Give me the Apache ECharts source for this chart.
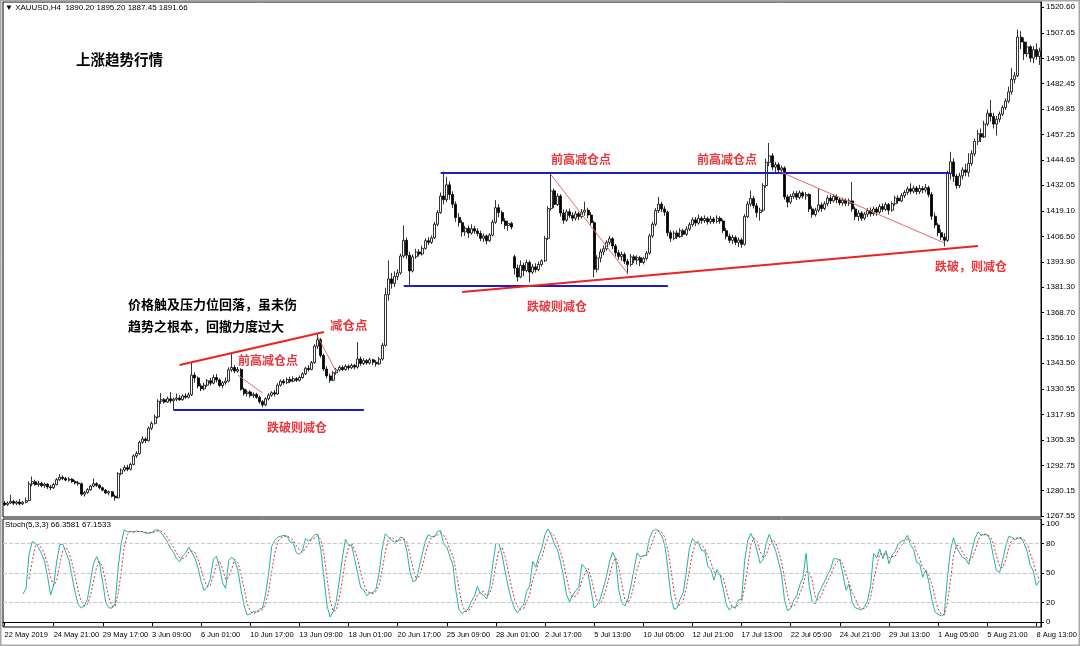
<!DOCTYPE html>
<html><head><meta charset="utf-8">
<script src="https://cdn.jsdelivr.net/npm/echarts@6/dist/echarts.min.js"></script>
<style>html,body{margin:0;padding:0;background:#fff;}#c{width:1080px;height:646px;}</style>
</head><body><div id="c"></div>
<script>
// ---- DATA ----
const xTickLabels = ['22 May 2019','24 May 21:00','29 May 17:00','3 Jun 09:00','6 Jun 01:00','10 Jun 17:00','13 Jun 09:00','18 Jun 01:00','20 Jun 17:00','25 Jun 09:00','28 Jun 01:00','2 Jul 17:00','5 Jul 13:00','10 Jul 05:00','12 Jul 21:00','17 Jul 13:00','22 Jul 05:00','24 Jul 21:00','29 Jul 13:00','1 Aug 05:00','5 Aug 21:00','8 Aug 13:00'];
const priceTicks = [1520.60,1507.65,1495.05,1482.45,1469.85,1457.25,1444.65,1432.05,1419.10,1406.50,1393.90,1381.30,1368.70,1356.10,1343.50,1330.55,1317.95,1305.35,1292.75,1280.15,1267.55];
const stochTicks = [100,80,50,20,0];
const stochLevels = [20,50,80];
// H4 bars: [open, close, low, high]
const ohlc = [
[1274.0,1273.2,1272.5,1275.0],[1273.2,1274.0,1272.6,1274.8],[1274.0,1274.8,1273.5,1278.0],[1274.8,1273.9,1273.0,1275.6],
[1273.9,1274.5,1273.0,1275.2],[1274.5,1273.6,1272.8,1276.0],[1273.6,1274.4,1273.0,1275.0],[1274.4,1275.2,1273.8,1276.8],
[1275.2,1283.5,1275.0,1284.8],[1283.5,1284.6,1282.4,1287.2],[1284.6,1283.2,1282.6,1285.6],[1283.2,1283.8,1282.0,1285.0],
[1283.8,1282.6,1281.8,1284.6],[1282.6,1283.4,1281.5,1284.2],[1283.4,1282.0,1281.0,1283.9],[1282.0,1281.6,1280.4,1283.0],
[1281.6,1283.2,1281.0,1284.0],[1283.2,1285.6,1282.8,1286.4],[1285.6,1286.8,1285.0,1288.4],[1286.8,1286.2,1285.4,1287.8],
[1286.2,1285.4,1284.8,1287.0],[1285.4,1285.8,1284.6,1286.8],[1285.8,1284.6,1284.0,1286.4],[1284.6,1284.0,1283.2,1285.4],
[1284.0,1283.6,1282.6,1285.0],[1283.6,1278.4,1277.6,1284.2],[1278.4,1279.2,1277.2,1280.0],[1279.2,1280.6,1278.6,1281.4],
[1280.6,1282.4,1280.0,1283.0],[1282.4,1283.6,1281.8,1286.2],[1283.6,1282.8,1282.0,1284.4],[1282.8,1281.6,1280.8,1283.4],
[1281.6,1280.4,1279.8,1282.2],[1280.4,1279.0,1278.4,1281.0],[1279.0,1279.6,1277.8,1280.2],[1279.6,1277.4,1276.8,1280.0],
[1277.4,1276.6,1275.2,1278.2],[1276.6,1288.6,1276.2,1289.4],[1288.6,1290.4,1287.8,1291.2],[1290.4,1291.6,1289.6,1292.8],
[1291.6,1290.8,1289.8,1293.0],[1290.8,1293.2,1290.2,1294.0],[1293.2,1297.4,1292.8,1298.2],[1297.4,1298.6,1296.4,1299.8],
[1298.6,1304.2,1298.0,1305.0],[1304.2,1305.8,1303.4,1307.2],[1305.8,1305.0,1303.8,1306.6],[1305.0,1311.2,1304.6,1312.0],
[1311.2,1313.6,1310.2,1314.6],[1313.6,1316.8,1313.0,1318.0],[1316.8,1324.6,1316.2,1325.6],[1324.6,1325.4,1323.2,1328.6],
[1325.4,1324.2,1323.4,1326.2],[1324.2,1325.8,1323.8,1327.0],[1325.8,1324.8,1323.6,1329.2],[1324.8,1325.6,1320.2,1326.4],
[1325.6,1326.2,1324.6,1328.4],[1326.2,1325.4,1324.8,1327.6],[1325.4,1327.2,1324.8,1328.0],[1327.2,1326.6,1325.8,1328.6],
[1326.6,1327.8,1326.0,1329.0],[1327.8,1337.6,1327.2,1343.6],[1337.6,1336.2,1333.8,1339.0],[1336.2,1332.2,1331.0,1337.0],
[1332.2,1330.8,1329.6,1333.4],[1330.8,1332.6,1330.0,1333.8],[1332.6,1334.8,1331.8,1335.6],[1334.8,1333.6,1332.4,1336.2],
[1333.6,1336.4,1333.0,1337.8],[1336.4,1335.2,1334.0,1338.2],[1335.2,1332.4,1331.6,1336.0],[1332.4,1333.8,1331.0,1334.6],
[1333.8,1334.6,1332.8,1336.4],[1334.6,1340.2,1334.0,1341.4],[1340.2,1341.4,1339.2,1348.4],[1341.4,1339.6,1338.6,1342.6],
[1339.6,1340.4,1338.8,1341.6],[1340.4,1330.6,1329.8,1341.0],[1330.6,1328.4,1327.4,1331.4],[1328.4,1329.2,1327.0,1330.4],
[1329.2,1327.4,1326.4,1330.0],[1327.4,1328.0,1326.2,1329.0],[1328.0,1326.6,1325.8,1328.8],[1326.6,1324.4,1323.4,1327.4],
[1324.4,1322.8,1321.6,1325.2],[1322.8,1325.8,1322.2,1326.6],[1325.8,1327.6,1325.0,1328.6],[1327.6,1328.8,1326.8,1329.6],
[1328.8,1328.2,1327.0,1330.2],[1328.2,1332.6,1327.8,1333.6],[1332.6,1334.6,1331.8,1335.4],[1334.6,1333.8,1332.8,1335.6],
[1333.8,1335.4,1333.2,1336.4],[1335.4,1334.6,1333.6,1336.8],[1334.6,1335.8,1334.0,1337.0],[1335.8,1335.0,1334.2,1336.6],
[1335.0,1336.4,1334.4,1337.4],[1336.4,1338.2,1335.8,1339.0],[1338.2,1341.0,1337.6,1341.8],[1341.0,1340.4,1339.4,1342.6],
[1340.4,1343.8,1340.0,1344.6],[1343.8,1352.0,1343.2,1353.0],[1352.0,1355.2,1350.6,1358.4],[1355.2,1347.4,1346.2,1356.0],
[1347.4,1340.6,1339.6,1348.2],[1340.6,1337.2,1336.0,1342.0],[1337.2,1335.0,1333.8,1338.4],[1335.0,1338.8,1334.6,1339.6],
[1338.8,1340.2,1337.8,1341.2],[1340.2,1341.4,1339.4,1342.4],[1341.4,1340.4,1339.6,1342.4],[1340.4,1342.0,1339.8,1343.0],
[1342.0,1341.2,1340.0,1342.8],[1341.2,1342.4,1340.6,1343.4],[1342.4,1341.6,1340.4,1343.2],[1341.6,1345.6,1340.8,1354.0],
[1345.6,1343.4,1342.2,1346.8],[1343.4,1344.8,1342.6,1346.0],[1344.8,1343.6,1342.8,1345.6],[1343.6,1345.2,1342.8,1346.2],
[1345.2,1344.0,1342.6,1345.8],[1344.0,1343.2,1341.8,1345.0],[1343.2,1345.6,1342.6,1346.6],[1345.6,1352.4,1344.8,1353.6],
[1352.4,1377.6,1351.8,1381.0],[1377.6,1385.4,1374.6,1394.6],[1385.4,1383.2,1380.6,1388.4],[1383.2,1386.6,1381.4,1389.2],
[1386.6,1388.4,1384.8,1390.2],[1388.4,1396.8,1387.6,1398.0],[1396.8,1404.6,1395.8,1412.0],[1404.6,1397.2,1395.4,1406.0],
[1397.2,1389.4,1382.2,1399.0],[1389.4,1396.4,1388.6,1397.6],[1396.4,1398.8,1395.4,1400.4],[1398.8,1397.8,1396.6,1400.2],
[1397.8,1400.6,1397.0,1402.0],[1400.6,1404.4,1400.0,1405.6],[1404.4,1403.6,1402.2,1406.2],[1403.6,1405.8,1402.8,1407.0],
[1405.8,1412.6,1405.2,1413.8],[1412.6,1418.4,1411.6,1419.6],[1418.4,1426.6,1417.8,1428.4],[1426.6,1424.8,1422.4,1438.8],
[1424.8,1432.2,1423.6,1436.2],[1432.2,1427.4,1424.8,1434.0],[1427.4,1422.6,1420.6,1429.0],[1422.6,1416.0,1413.8,1424.0],
[1416.0,1413.4,1411.4,1418.2],[1413.4,1408.8,1406.4,1414.6],[1408.8,1410.6,1406.8,1411.8],[1410.6,1408.2,1405.8,1412.0],
[1408.2,1410.4,1407.4,1412.6],[1410.4,1409.2,1407.8,1411.8],[1409.2,1408.0,1406.6,1410.6],[1408.0,1405.6,1404.2,1409.4],
[1405.6,1406.8,1403.8,1408.0],[1406.8,1404.4,1402.6,1407.6],[1404.4,1407.2,1403.8,1408.2],[1407.2,1413.6,1406.6,1414.8],
[1413.6,1420.8,1412.8,1424.6],[1420.8,1418.4,1416.0,1422.6],[1418.4,1414.2,1412.6,1419.4],[1414.2,1412.0,1410.2,1415.6],
[1412.0,1413.0,1409.4,1414.4],[1413.0,1411.2,1410.0,1413.8],[1396.4,1390.8,1387.6,1397.4],[1390.8,1386.4,1384.2,1392.6],
[1386.4,1392.2,1385.8,1394.6],[1392.2,1389.6,1386.8,1393.4],[1389.6,1393.6,1388.8,1395.0],[1393.6,1388.8,1383.8,1394.6],
[1388.8,1391.4,1387.8,1392.8],[1391.4,1390.0,1388.6,1393.2],[1390.0,1392.6,1389.2,1394.0],[1392.6,1394.4,1391.6,1395.2],
[1394.4,1405.6,1393.8,1406.8],[1405.6,1420.4,1404.8,1421.6],[1420.4,1429.2,1419.4,1438.2],[1429.2,1422.4,1420.6,1430.4],
[1422.4,1426.6,1421.6,1428.0],[1426.6,1418.2,1416.4,1427.6],[1418.2,1414.6,1412.8,1420.0],[1414.6,1418.8,1413.8,1420.0],
[1418.8,1417.0,1415.8,1420.4],[1417.0,1415.6,1414.2,1418.6],[1415.6,1417.8,1414.4,1419.2],[1417.8,1416.4,1414.6,1418.8],
[1416.4,1418.6,1415.4,1420.2],[1418.6,1419.6,1416.8,1423.8],[1419.6,1417.2,1415.6,1420.8],[1417.2,1413.4,1411.8,1418.6],
[1413.4,1390.2,1386.2,1414.4],[1390.2,1395.8,1388.6,1397.2],[1395.8,1398.8,1393.6,1400.4],[1398.8,1400.4,1397.2,1402.0],
[1400.4,1403.6,1399.4,1404.6],[1403.6,1405.4,1402.4,1406.8],[1405.4,1401.8,1400.2,1406.2],[1401.8,1398.4,1396.6,1402.8],
[1398.4,1396.6,1395.0,1399.8],[1396.6,1397.6,1394.4,1399.0],[1397.6,1394.2,1392.8,1398.6],[1394.2,1392.6,1387.6,1395.4],
[1392.6,1396.4,1391.6,1397.8],[1396.4,1394.8,1393.2,1397.4],[1394.8,1396.0,1392.6,1397.2],[1396.0,1393.6,1391.8,1396.8],
[1393.6,1395.6,1392.6,1396.4],[1395.6,1398.2,1394.6,1399.2],[1398.2,1406.8,1397.6,1408.0],[1406.8,1412.6,1405.8,1413.8],
[1412.6,1419.4,1411.6,1420.6],[1419.4,1422.6,1418.2,1426.2],[1422.6,1420.2,1418.6,1423.8],[1420.2,1418.6,1416.8,1421.6],
[1418.6,1408.4,1406.6,1419.4],[1408.4,1405.6,1403.8,1409.6],[1405.6,1408.2,1404.6,1409.4],[1408.2,1406.4,1405.2,1409.6],
[1406.4,1409.4,1405.8,1410.6],[1409.4,1407.6,1406.4,1410.4],[1407.6,1410.2,1406.8,1411.6],[1410.2,1412.4,1409.2,1413.6],
[1412.4,1414.8,1411.4,1416.0],[1414.8,1413.2,1411.6,1416.2],[1413.2,1415.6,1412.4,1417.4],[1415.6,1414.4,1412.8,1416.6],
[1414.4,1415.4,1413.2,1417.0],[1415.4,1413.8,1412.4,1416.4],[1413.8,1415.2,1412.6,1416.8],[1415.2,1414.0,1412.8,1416.2],
[1414.0,1415.6,1413.0,1417.0],[1415.6,1414.2,1412.8,1416.6],[1414.2,1409.4,1408.2,1415.0],[1409.4,1406.6,1405.0,1410.8],
[1406.6,1404.6,1403.2,1408.0],[1404.6,1406.0,1402.8,1407.4],[1406.0,1403.6,1402.2,1407.0],[1403.6,1404.8,1401.2,1406.0],
[1404.8,1402.6,1400.8,1405.8],[1402.6,1416.4,1402.0,1417.6],[1416.4,1422.6,1415.6,1424.0],[1422.6,1425.4,1421.4,1429.4],
[1425.4,1421.8,1420.4,1426.6],[1421.8,1418.4,1416.0,1423.2],[1418.4,1419.6,1414.4,1420.8],[1419.6,1431.8,1418.8,1433.0],
[1431.8,1443.4,1430.8,1445.2],[1443.4,1446.6,1441.4,1453.0],[1446.6,1441.0,1439.4,1448.0],[1441.0,1442.2,1438.6,1443.6],
[1442.2,1439.6,1438.0,1443.4],[1439.6,1440.6,1437.4,1441.8],[1440.6,1426.2,1424.8,1441.4],[1426.2,1423.6,1421.0,1427.4],
[1423.6,1426.4,1422.6,1427.6],[1426.4,1427.8,1425.2,1429.0],[1427.8,1426.0,1424.6,1429.2],[1426.0,1428.2,1425.0,1429.4],
[1428.2,1426.6,1425.4,1429.0],[1426.6,1427.4,1424.8,1428.6],[1427.4,1420.2,1418.6,1428.0],[1420.2,1417.4,1415.8,1421.6],
[1417.4,1419.6,1416.4,1420.8],[1419.6,1422.2,1418.6,1430.4],[1422.2,1420.4,1418.8,1423.4],[1420.4,1422.8,1419.6,1424.0],
[1422.8,1425.6,1421.6,1427.0],[1425.6,1424.2,1422.6,1427.2],[1424.2,1426.4,1423.4,1427.6],[1426.4,1424.8,1423.0,1427.4],
[1424.8,1423.2,1422.0,1426.0],[1423.2,1424.6,1421.8,1425.8],[1424.6,1423.0,1421.6,1425.4],[1423.0,1424.2,1421.8,1425.4],
[1424.2,1420.2,1418.8,1433.6],[1420.2,1416.4,1414.6,1421.4],[1416.4,1418.2,1414.2,1419.6],[1418.2,1415.6,1414.2,1419.2],
[1415.6,1417.6,1414.6,1418.8],[1417.6,1419.4,1416.2,1420.6],[1419.4,1417.8,1416.4,1421.0],[1417.8,1420.2,1416.8,1421.4],
[1420.2,1418.6,1416.8,1421.2],[1418.6,1421.4,1417.8,1422.6],[1421.4,1420.0,1418.6,1423.0],[1420.0,1422.4,1419.2,1423.6],
[1422.4,1419.6,1417.4,1423.2],[1419.6,1422.8,1418.8,1424.0],[1422.8,1425.6,1421.8,1426.8],[1425.6,1424.2,1422.8,1427.0],
[1424.2,1426.8,1423.6,1428.0],[1426.8,1428.4,1425.6,1429.6],[1428.4,1430.2,1427.2,1431.4],[1430.2,1429.0,1427.6,1433.0],
[1429.0,1430.6,1428.0,1431.8],[1430.6,1428.8,1427.4,1431.6],[1428.8,1430.4,1427.6,1432.2],[1430.4,1429.6,1428.0,1431.6],
[1429.6,1430.8,1428.4,1432.6],[1430.8,1427.4,1426.0,1431.8],[1427.4,1416.6,1414.8,1428.6],[1416.6,1412.2,1410.6,1418.4],
[1412.2,1408.4,1406.6,1413.2],[1408.4,1406.2,1404.8,1410.0],[1406.2,1404.6,1401.6,1408.2],[1404.6,1437.8,1403.8,1439.2],
[1437.8,1443.6,1434.8,1448.6],[1443.6,1436.4,1433.6,1445.4],[1436.4,1431.8,1430.2,1437.6],[1431.8,1436.6,1430.6,1438.2],
[1436.6,1439.6,1434.8,1441.0],[1439.6,1438.4,1436.4,1442.6],[1438.4,1442.8,1436.2,1448.0],[1442.8,1447.6,1441.6,1449.4],
[1447.6,1453.8,1446.4,1455.2],[1453.8,1457.6,1452.0,1459.6],[1457.6,1456.0,1453.4,1460.2],[1456.0,1462.4,1455.4,1464.0],
[1462.4,1467.8,1461.4,1469.6],[1467.8,1466.2,1463.6,1474.4],[1466.2,1462.4,1460.2,1468.0],[1462.4,1464.8,1456.6,1466.4],
[1464.8,1467.4,1463.2,1468.6],[1467.4,1470.6,1466.4,1471.8],[1470.6,1473.8,1469.4,1475.2],[1473.8,1478.4,1472.8,1481.0],
[1478.4,1484.6,1477.0,1490.2],[1484.6,1486.4,1482.6,1488.2],[1486.4,1505.6,1485.8,1509.4],[1505.6,1503.2,1499.6,1508.6],
[1503.2,1497.4,1494.2,1505.4],[1497.4,1500.8,1495.8,1503.4],[1500.8,1495.2,1493.2,1501.6],[1495.2,1499.4,1492.6,1501.2],
[1499.4,1496.0,1494.4,1502.6],[1496.0,1498.6,1491.8,1500.4]
];
// trend lines: [barFrom, priceFrom, barTo, priceTo]
const redTrend = [[57,1342.6,104,1359.0],[149,1378.9,317,1401.8]];
const blueLevels = [[55,1320.2,117,1320.2],[130,1381.9,216,1381.9],[142,1438.1,308,1438.1]];
const thinRed = [[76,1337.6,84,1328.7],[102,1356.7,108,1339.3],[178,1437.1,203,1387.9],[253,1438.4,306,1403.3]];

// ---- BUILD ----
const categories = ohlc.map((d,i)=>String(i));
const N = ohlc.length;
// Stochastic(5,3,3) derived from the candles
const num=[],den=[];
for(let i=0;i<N;i++){
  if(i<4){num.push(null);den.push(null);continue;}
  let ll=Infinity,hh=-Infinity;
  for(let j=i-4;j<=i;j++){ll=Math.min(ll,ohlc[j][2]);hh=Math.max(hh,ohlc[j][3]);}
  num.push(ohlc[i][1]-ll);den.push(hh-ll);
}
const kLine=[],dLine=[];
for(let i=0;i<N;i++){
  if(i<6){kLine.push(null);continue;}
  const s1=num[i]+num[i-1]+num[i-2], s2=den[i]+den[i-1]+den[i-2];
  kLine.push(s2>0?+(s1/s2*100).toFixed(2):50);
}
for(let i=0;i<N;i++){
  if(i<8){dLine.push(null);continue;}
  dLine.push(+((kLine[i]+kLine[i-1]+kLine[i-2])/3).toFixed(2));
}
function seg(arr,style){return arr.map(a=>[{coord:[a[0],a[1]],lineStyle:style},{coord:[a[2],a[3]]}]);}
const tickShow = (idx)=> idx%16===0;
const axFont = {fontFamily:'"Liberation Sans", Arial, sans-serif', fontSize:7.5, color:'#000'};
const cjk = '"Noto Sans CJK SC", sans-serif';
function txt(t,x,y,size,color){return {type:'text',left:x,top:y-size/2-1,style:{text:t,fill:color,font:'bold '+size+'px '+cjk}};}

const chart = echarts.init(document.getElementById('c'),null,{renderer:'canvas'});
chart.setOption({
  animation:false,
  backgroundColor:'#fff',
  grid:[
    {left:3,right:39,top:2,height:515,show:true,borderColor:'#000',borderWidth:1},
    {left:3,right:39,top:519,height:108,show:true,borderColor:'#000',borderWidth:1}
  ],
  xAxis:[
    {type:'category',gridIndex:0,data:categories,boundaryGap:true,axisLine:{show:false},axisTick:{show:false},axisLabel:{show:false},splitLine:{show:false}},
    {type:'category',gridIndex:1,data:categories,boundaryGap:true,
     axisLine:{show:true,lineStyle:{color:'#000'}},
     axisTick:{show:true,interval:(i)=>tickShow(i),alignWithLabel:true,length:4,lineStyle:{color:'#000'}},
     axisLabel:Object.assign({interval:(i)=>tickShow(i),align:'left',margin:4,formatter:(v,i)=>tickShow(i)?xTickLabels[i/16]:''},axFont),
     splitLine:{show:false}}
  ],
  yAxis:[
    {type:'value',gridIndex:0,position:'right',min:1267.05,max:1523.09,
     axisLine:{show:true,lineStyle:{color:'#000'}},
     axisTick:{show:true,customValues:priceTicks,length:3,lineStyle:{color:'#000'}},
     axisLabel:Object.assign({customValues:priceTicks,margin:5,formatter:(v)=>v.toFixed(2)},axFont,{fontSize:8}),
     splitLine:{show:false}},
    {type:'value',gridIndex:1,position:'right',min:-5,max:105,
     axisLine:{show:true,lineStyle:{color:'#000'}},
     axisTick:{show:true,customValues:stochTicks,length:3,lineStyle:{color:'#000'}},
     axisLabel:Object.assign({customValues:stochTicks,margin:5},axFont,{fontSize:8}),
     splitLine:{show:false}}
  ],
  series:[
    {type:'candlestick',xAxisIndex:0,yAxisIndex:0,data:ohlc,barWidth:2.5,
     itemStyle:{color:'#ffffff',color0:'#000000',borderColor:'#000000',borderColor0:'#000000',borderWidth:0.8},
     markLine:{silent:true,symbol:['none','none'],label:{show:false},
       data:[].concat(
         seg(blueLevels,{color:'#1c1cc8',width:2,type:'solid'}),
         seg(redTrend,{color:'#ee2222',width:2,type:'solid'}),
         seg(thinRed,{color:'#e06a6a',width:1,type:'solid'})
       )}},
    {type:'line',xAxisIndex:1,yAxisIndex:1,data:kLine,showSymbol:false,lineStyle:{color:'#20b2aa',width:1},
     markLine:{silent:true,symbol:['none','none'],label:{show:false},lineStyle:{color:'#c8c8c8',type:'dashed',width:1},
       data:stochLevels.map(v=>({yAxis:v}))}},
    {type:'line',xAxisIndex:1,yAxisIndex:1,data:dLine,showSymbol:false,lineStyle:{color:'#e03030',width:1,type:[2,2]}}
  ],
  graphic:[
    {type:'rect',shape:{x:0,y:0,width:1080,height:646},style:{fill:'none',stroke:'#a8a8a8',lineWidth:3},silent:true},
    {type:'text',left:5,top:4,style:{text:'▼ XAUUSD,H4  1890.20 1895.20 1887.45 1891.66',fill:'#000',font:'8px "Liberation Sans", Arial, sans-serif'}},
    {type:'text',left:5,top:521,style:{text:'Stoch(5,3,3) 66.3581 67.1533',fill:'#000',font:'8px "Liberation Sans", Arial, sans-serif'}},
    txt('上涨趋势行情',76,60,14.5,'#000'),
    txt('价格触及压力位回落，虽未伤',128,305,13,'#000'),
    txt('趋势之根本，回撤力度过大',128,327,13,'#000'),
    txt('前高减仓点',238,361,12,'#e8363c'),
    txt('减仓点',330,326,12.5,'#e8363c'),
    txt('跌破则减仓',267,428,12,'#e8363c'),
    txt('前高减仓点',551,160,12,'#e8363c'),
    txt('前高减仓点',697,160,12,'#e8363c'),
    txt('跌破则减仓',527,307,12,'#e8363c'),
    txt('跌破，则减仓',935,267,12,'#e8363c')
  ]
});
</script></body></html>
